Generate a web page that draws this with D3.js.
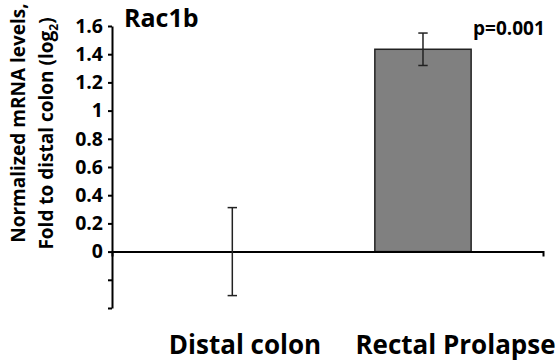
<!DOCTYPE html>
<html>
<head>
<meta charset="utf-8">
<script src="https://cdn.jsdelivr.net/npm/d3@7"></script>
<style>
  html, body { margin: 0; padding: 0; background: #fff; }
  svg { display: block; font-family: "Open Sans", sans-serif; font-weight: bold; }
</style>
</head>
<body>
<div id="chart"></div>
<script>
// chart data
const categories = ['Distal colon', 'Rectal Prolapse'];
const means = [0, 1.435];
const errors = [0.312, 0.115];
const yTicks = [-0.4, -0.2, 0, 0.2, 0.4, 0.6, 0.8, 1, 1.2, 1.4, 1.6];
const yTickLabels = ['', '', '0', '0.2', '0.4', '0.6', '0.8', '1', '1.2', '1.4', '1.6'];
const title = 'Rac1b';
const pLabel = 'p=0.001';

const width = 560, height = 362;

const svg = d3.select('#chart').append('svg')
  .attr('width', width)
  .attr('height', height);

const y = d3.scaleLinear()
  .domain([-0.4, 1.6])
  .range([308, 26]);

const x = d3.scaleBand()
  .domain(categories)
  .range([136.5, 518.8])
  .paddingInner(0.495)
  .paddingOuter(0.25);

// category labels sit a bit right of the bars in the original
const xLabel = d3.scalePoint()
  .domain(categories)
  .range([245, 455.5]);

// bars
svg.selectAll('rect.bar')
  .data(categories)
  .enter().append('rect')
  .attr('class', 'bar')
  .attr('x', d => x(d))
  .attr('width', x.bandwidth())
  .attr('y', (d, i) => y(Math.max(0, means[i])))
  .attr('height', (d, i) => Math.abs(y(means[i]) - y(0)))
  .attr('fill', '#808080')
  .attr('stroke', '#222')
  .attr('stroke-width', 1.5);

// x axis line, crosses at 0
const xAxisScale = d3.scaleLinear().domain([0, 1]).range([112, 543]);
svg.append('g')
  .attr('transform', `translate(0,${y(0)})`)
  .call(d3.axisBottom(xAxisScale).tickValues([]).tickSizeOuter(5))
  .call(g => g.select('.domain').attr('stroke', '#000').attr('stroke-width', 2));

// y axis
svg.append('g')
  .attr('transform', 'translate(112,0)')
  .call(d3.axisLeft(y)
    .tickValues(yTicks)
    .tickSize(4)
    .tickSizeOuter(0)
    .tickPadding(5)
    .tickFormat((d, i) => yTickLabels[i]))
  .call(g => g.select('.domain').attr('stroke', '#000').attr('stroke-width', 2))
  .call(g => g.selectAll('.tick line').attr('stroke', '#000').attr('stroke-width', 2))
  .call(g => g.selectAll('.tick text')
    .attr('fill', '#000')
    .style('font-family', '"Open Sans", sans-serif')
    .style('font-weight', 'bold')
    .style('font-size', '19.5px'));

// error bars
const err = svg.selectAll('g.err')
  .data(categories)
  .enter().append('g')
  .attr('class', 'err')
  .attr('stroke', '#222')
  .attr('stroke-width', 1.5);

err.append('line')
  .attr('x1', d => x(d) + x.bandwidth() / 2)
  .attr('x2', d => x(d) + x.bandwidth() / 2)
  .attr('y1', (d, i) => y(means[i] + errors[i]))
  .attr('y2', (d, i) => y(means[i] - errors[i]));

[1, -1].forEach(s => {
  err.append('line')
    .attr('x1', d => x(d) + x.bandwidth() / 2 - 4.7)
    .attr('x2', d => x(d) + x.bandwidth() / 2 + 4.7)
    .attr('y1', (d, i) => y(means[i] + s * errors[i]))
    .attr('y2', (d, i) => y(means[i] + s * errors[i]));
});

// category labels
svg.selectAll('text.cat')
  .data(categories)
  .enter().append('text')
  .attr('class', 'cat')
  .attr('x', d => xLabel(d))
  .attr('y', 354)
  .attr('text-anchor', 'middle')
  .style('font-size', '26px')
  .text(d => d);

// title
svg.append('text')
  .attr('x', 124)
  .attr('y', 26.8)
  .style('font-size', '25px')
  .text(title);

// p value
svg.append('text')
  .attr('x', 473)
  .attr('y', 35)
  .style('font-size', '19px')
  .text(pLabel);

// y axis title, two lines (centred a little differently in the original)
const yTitle = svg.append('g')
  .attr('text-anchor', 'middle')
  .style('font-size', '19px');

yTitle.append('text')
  .attr('transform', 'translate(25,123) rotate(-90)')
  .text('Normalized mRNA levels,');

const line2 = yTitle.append('text')
  .attr('transform', 'translate(53,133.5) rotate(-90)')
  .text('Fold to distal colon (log');
line2.append('tspan')
  .style('font-size', '12px')
  .attr('dy', 5)
  .text('2');
line2.append('tspan')
  .attr('dy', -5)
  .text(')');
</script>
</body>
</html>
